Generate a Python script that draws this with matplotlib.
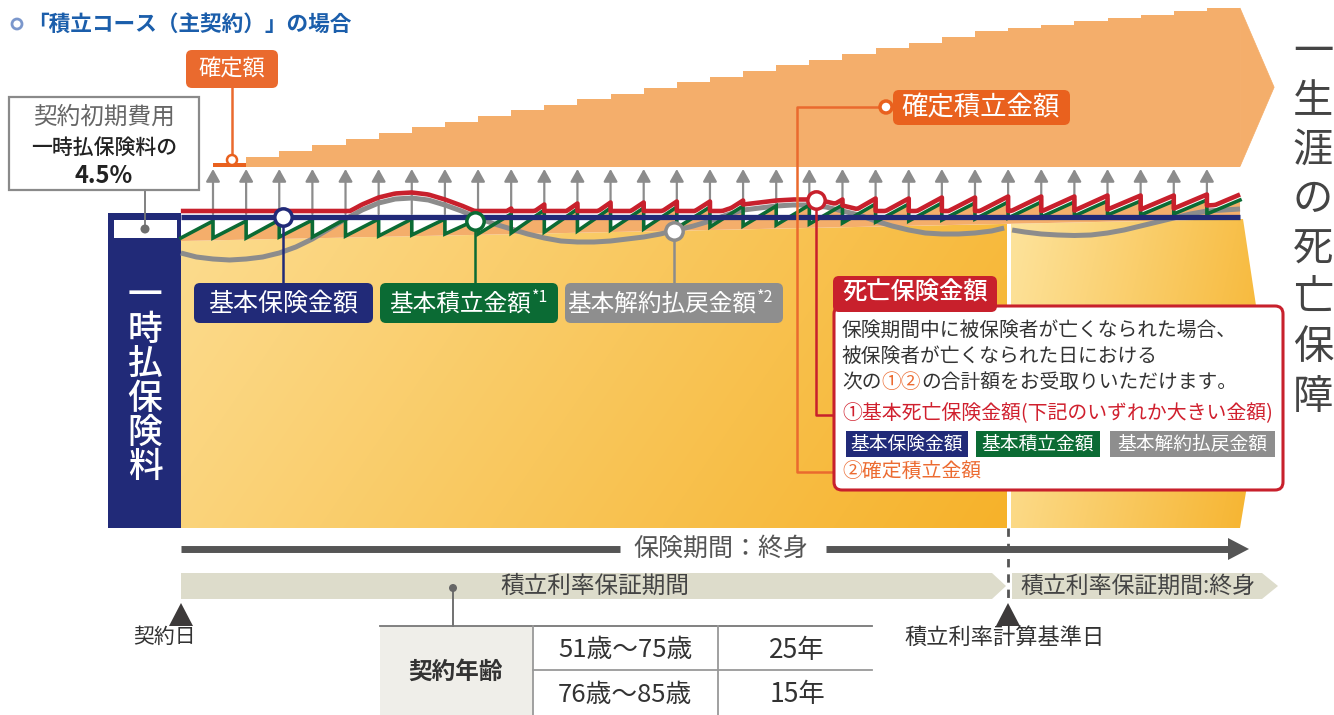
import numpy as np
import matplotlib
matplotlib.use("Agg")
import matplotlib.pyplot as plt
from matplotlib.patches import Polygon, Rectangle, FancyBboxPatch, Circle
from matplotlib.colors import to_rgb

plt.rcParams['font.family'] = ['Noto Sans CJK JP', 'DejaVu Sans']

# ---------------- data (amounts, x = policy year) ----------------
year_edges = [-0.97] + list(range(0, 32))
kakutei_first = 97          # 確定額
kakutei_base = 93.5
kakutei_steps = [103, 109, 115, 121, 127, 133, 138, 144, 150, 155, 161, 166, 172, 178, 183,
                 189, 195, 200, 206, 212, 217, 223, 229, 232, 235, 239, 242, 245, 249, 252]
kihon_hoken = 43.5          # 基本保険金額
# 基本積立金額: value at the start / end of each year
tsumitate_start = [22, 22, 22, 23, 23, 24, 24, 25, 26, 26, 27, 28, 29, 30, 31, 32,
                   33, 34, 35, 36, 37, 38, 39, 40, 41, 42, 43, 44, 45, 45, 46, 46]
tsumitate_end = [39, 39, 40, 40, 41, 41, 41, 41, 41, 46, 50, 51, 52, 52, 53, 53,
                 54, 54, 55, 55, 56, 56, 57, 57, 58, 58, 58, 59, 59, 59, 60, 60]
# 基本解約払戻金額 (two parts, split at 積立利率計算基準日)
kaiyaku_t1 = [-0.97, -0.5, 0, 0.5, 1, 1.5, 2, 2.5, 3, 3.5, 4, 4.5, 5, 5.5, 6, 6.5, 7, 7.5, 8,
              8.5, 9, 9.5, 10, 10.5, 11, 11.5, 12, 12.5, 13, 13.5, 14, 14.5, 15, 15.5, 16,
              16.5, 17, 17.5, 18, 18.5, 19, 19.5, 20, 20.5, 21, 21.5, 22, 22.5, 23, 23.5, 23.88]
kaiyaku_v1 = [7, 3, 1, 0, 1, 3, 7, 13, 21, 31, 41, 50, 57, 61, 62, 60, 55, 49, 42,
              36, 31, 26, 22, 19, 18, 18, 19, 21, 23, 26, 30, 34, 39, 45, 50,
              52, 54, 55, 55, 53, 49, 45, 39, 34, 30, 27, 26, 26, 27, 29, 32]
kaiyaku_t2 = [24.12, 24.5, 25, 25.5, 26, 26.5, 27, 27.5, 28, 28.5, 29, 29.5, 30, 30.5, 31]
kaiyaku_v2 = [30, 28, 26, 25, 24.5, 25, 27, 30, 34, 38, 42, 46, 49, 50, 51]

box_labels = ['基本保険金額', '基本積立金額', '基本解約払戻金額']
box_notes = ['', '*1', '*2']
table_ages = ['51歳～75歳', '76歳～85歳']
table_years = ['25年', '15年']

# ---------------- colours ----------------
NAVY = '#212a78'
GREEN = '#0b6b34'
GRAY = '#8c8c8c'
RED = '#c8202c'
ORANGE = '#ea6a2e'
LORANGE = '#f4ae6b'
DARK = '#333333'

W, H = 1334, 715
X0, DX, TOP = 213, 33.13, 260

fig = plt.figure(figsize=(W / 100, H / 100), dpi=100)


def px_axes():
    a = fig.add_axes([0, 0, 1, 1])
    a.axis('off')
    a.patch.set_visible(False)
    return a


ax_bg = px_axes()
ax_d = px_axes()
ax = px_axes()


def rbox(a, x0, y0, x1, y1, fc, ec='none', lw=0, r=6, z=5):
    a.add_patch(FancyBboxPatch((x0, y0), x1 - x0, y1 - y0,
                               boxstyle=f"round,pad=0,rounding_size={r}",
                               fc=fc, ec=ec, lw=lw, zorder=z))


def grad(c0, c1, wx=0.8):
    xs = np.linspace(0, 1, 300)
    ys = np.linspace(0, 1, 120)
    s = wx * xs[None, :] + (1 - wx) * ys[:, None]
    a = np.array(to_rgb(c0))
    b = np.array(to_rgb(c1))
    return a + (b - a) * s[..., None]


# ---------------- background: yellow areas, navy bar ----------------
for pts, c0, c1 in [([(181, 241), (1007, 223.9), (1007, 528), (181, 528)], '#fcdc8f', '#f6b22a'),
                    ([(1011, 223.8), (1243, 219), (1266, 372), (1240, 528), (1011, 528)], '#fde39c', '#f6b22b')]:
    xs = [p[0] for p in pts]
    ys = [p[1] for p in pts]
    im = ax_bg.imshow(grad(c0, c1), extent=(min(xs), max(xs), max(ys), min(ys)),
                      origin='upper', interpolation='bilinear', aspect='auto', zorder=1)
    poly = Polygon(pts, closed=True, fc='none', ec='none', transform=ax_bg.transData)
    ax_bg.add_patch(poly)
    im.set_clip_path(poly)

ax_bg.add_patch(Rectangle((108, 213), 73, 315, fc=NAVY, ec='none', zorder=2))
ax_bg.add_patch(Rectangle((114, 220), 63, 18, fc='white', ec='none', zorder=3))
ax_bg.add_patch(Circle((145, 229), 4.5, fc='#6e6e6e', ec='none', zorder=4))
ax_bg.plot([145, 145], [229, 190], color='#777777', lw=1.3, zorder=3)
for i, ch in enumerate('一時払保険料'):
    ax_bg.text(145, 296 + 34.2 * i, ch, color='white', fontsize=25, fontweight='medium',
               ha='center', va='center', zorder=4)

# ---------------- data marks ----------------
ax_d.stairs([kakutei_first], [0, 1], baseline=kakutei_base, fill=True, color='#e9611e', zorder=2)
ax_d.stairs(kakutei_steps, np.arange(1, 32), baseline=kakutei_base, fill=True, color=LORANGE, zorder=1)
tip_t = 32.03
ax_d.add_patch(Polygon([(31, kakutei_steps[-1]), (tip_t, (kakutei_steps[-1] + kakutei_base) / 2),
                        (31, kakutei_base)], closed=True, fc=LORANGE, ec=LORANGE, lw=0.5, zorder=1))

for t in range(0, 31):
    ax_d.annotate('', xy=(t, 91), xytext=(t, 46),
                  arrowprops=dict(arrowstyle='-|>,head_length=0.5,head_width=0.28', lw=1.6,
                                  color=GRAY, shrinkA=0, shrinkB=0, mutation_scale=15), zorder=2)

gray_t = kaiyaku_t1 + kaiyaku_t2
gray_v = kaiyaku_v1 + kaiyaku_v2
gx, gy, rx, ry = [], [], [], []
for i in range(len(tsumitate_start)):
    t0, t1 = year_edges[i], year_edges[i + 1]
    gx += [t0, t1]
    gy += [tsumitate_start[i], tsumitate_end[i]]
    ts = np.linspace(t0, t1, 16)
    g = np.linspace(tsumitate_start[i], tsumitate_end[i], 16)
    k = np.interp(ts, gray_t, gray_v)
    rx += list(ts)
    ry += list(np.maximum(np.maximum(g, k), kihon_hoken) + 5.5)

band = list(zip(gx, gy)) + [(31, 41), (year_edges[0], 19)]
ax_d.add_patch(Polygon(band, closed=True, fc=LORANGE, ec='none', zorder=2.5))
ax_d.plot(kaiyaku_t1, kaiyaku_v1, color=GRAY, lw=3.6, solid_capstyle='butt', zorder=3)
ax_d.plot(kaiyaku_t2, kaiyaku_v2, color=GRAY, lw=3.6, solid_capstyle='butt', zorder=3)
ax_d.plot(gx, gy, color=GREEN, lw=2.6, solid_joinstyle='miter', zorder=4)
ax_d.plot([year_edges[0], 31], [kihon_hoken, kihon_hoken], color=NAVY, lw=3.8,
          solid_capstyle='butt', zorder=5)
ax_d.plot(rx, ry, color=RED, lw=3.3, solid_capstyle='butt', zorder=6)

# markers + leaders
m_blue = (2.11, kihon_hoken)
m_green = (7.9, tsumitate_start[8] + (tsumitate_end[8] - tsumitate_start[8]) * 0.9)
m_gray = (13.9, float(np.interp(13.9, gray_t, gray_v)))
m_red = (18.2, float(np.interp(18.2, rx, ry)))
for (t, v), c in [(m_blue, NAVY), (m_green, GREEN), (m_gray, GRAY)]:
    ax_d.plot([t, t], [v, TOP - 283], color=c, lw=1.8, zorder=6.5)
ax_d.plot([m_red[0], m_red[0], 18.99], [m_red[1], TOP - 415, TOP - 415], color=RED, lw=1.8, zorder=6.5)
for (t, v), c in [(m_blue, NAVY), (m_green, GREEN), (m_gray, GRAY), (m_red, RED)]:
    ax_d.plot(t, v, 'o', ms=12.5, mfc='white', mec=c, mew=2.5, zorder=7)

ax_d.set_xlim((0 - X0) / DX, (W - X0) / DX)
ax_d.set_ylim(TOP - H, TOP)

# ---------------- labels / annotations ----------------
ax.add_patch(Circle((17, 24), 5, fc='white', ec='#7b97cc', lw=2))
ax.text(27, 24, '「積立コース（主契約）」の場合', color='#1b5eab', fontsize=15.6,
        fontweight='bold', ha='left', va='center')

# 確定額
rbox(ax, 186, 50, 278, 88, ORANGE, r=6)
ax.text(232, 69, '確定額', color='white', fontsize=16, ha='center', va='center', zorder=6)
ax.plot([232, 232], [88, 156], color=ORANGE, lw=1.8, zorder=4)
ax.add_patch(Circle((232, 160), 5, fc='white', ec='#e9611e', lw=1.8, zorder=6))

# 契約初期費用
ax.add_patch(Rectangle((9, 97), 190, 93, fc='white', ec='#8a8a8a', lw=1.6, zorder=4))
ax.text(104, 117, '契約初期費用', color='#666666', fontsize=17, ha='center', va='center', zorder=5)
ax.text(104, 148, '一時払保険料の', color='#222222', fontsize=15, fontweight='medium',
        ha='center', va='center', zorder=5)
ax.text(104, 176, '4.5%', color='#222222', fontsize=17, fontweight='bold',
        ha='center', va='center', zorder=5)

# three labels under the curves
for (x0, x1, tx), c, lab, note in zip([(194, 373, 283), (380, 558, 531), (565, 783, 756)],
                                    [NAVY, GREEN, '#8e8e8e'], box_labels, box_notes):
    rbox(ax, x0, 283, x1, 323, c, r=6)
    if note:
        ax.text(tx, 304, lab, color='white', fontsize=17, ha='right', va='center', zorder=6)
        ax.text(tx + 1, 297, note, color='white', fontsize=11.5, ha='left', va='center', zorder=6)
    else:
        ax.text(tx, 304, lab, color='white', fontsize=18, ha='center', va='center', zorder=6)

# 確定積立金額 label + leader
ax.plot([886, 797, 797, 842], [107, 107, 472, 472], color=ORANGE, lw=1.8, zorder=4)
rbox(ax, 893, 90, 1070, 125, '#e9611e', r=6)
ax.text(981, 108, '確定積立金額', color='white', fontsize=19, ha='center', va='center', zorder=6)
ax.add_patch(Circle((886, 107), 6, fc='white', ec='#e9611e', lw=2.5, zorder=7))

# death benefit box
rbox(ax, 834, 306, 1283, 490, 'white', ec=RED, lw=2.2, r=8, z=5)
rbox(ax, 833, 276, 997, 312, RED, r=6, z=6)
ax.text(915, 293, '死亡保険金額', color='white', fontsize=17.5, fontweight='medium',
        ha='center', va='center', zorder=7)
ax.text(842, 330, '保険期間中に被保険者が亡くなられた場合、', color=DARK, fontsize=14.2,
        ha='left', va='center', zorder=7)
ax.text(842, 356, '被保険者が亡くなられた日における', color=DARK, fontsize=14.2,
        ha='left', va='center', zorder=7)
t1 = ax.text(842, 383, '次の', color=DARK, fontsize=14.2, ha='left', va='center', zorder=7)
t2 = ax.annotate('①②', xy=(1, 0.5), xycoords=t1, color='#ec6b31', fontsize=14.2,
                 ha='left', va='center', zorder=7)
ax.annotate('の合計額をお受取りいただけます。', xy=(1, 0.5), xycoords=t2, color=DARK,
            fontsize=14.2, ha='left', va='center', zorder=7)
ax.text(842, 414, '①基本死亡保険金額(下記のいずれか大きい金額)', color='#d0202e', fontsize=14.3,
        ha='left', va='center', zorder=7)
for (x0, x1), c, lab in zip([(846, 968), (976, 1100), (1110, 1275)], [NAVY, GREEN, '#8e8e8e'], box_labels):
    ax.add_patch(Rectangle((x0, 431), x1 - x0, 26, fc=c, ec='none', zorder=6))
    ax.text((x0 + x1) / 2, 444, lab, color='white', fontsize=13.5, ha='center', va='center', zorder=7)
ax.text(842, 472, '②確定積立金額', color='#ec6b31', fontsize=14.3, ha='left', va='center', zorder=7)

# right vertical text
for i, ch in enumerate('一生涯の死亡保障'):
    ax.text(1313, 52 + 49.3 * i, ch, color='#444444', fontsize=29, ha='center', va='center')

# ---------------- bottom timeline ----------------
ax.plot([181, 620], [549, 549], color='#555555', lw=5, solid_capstyle='butt')
ax.plot([826, 1232], [549, 549], color='#555555', lw=5, solid_capstyle='butt')
ax.add_patch(Polygon([(1228, 538), (1249, 549), (1228, 560)], closed=True, fc='#555555', ec='none'))
ax.text(721, 549, '保険期間：終身', color='#555555', fontsize=18, ha='center', va='center')

ax.add_patch(Polygon([(181, 573), (992, 573), (1006, 586), (992, 599), (181, 599)],
                     closed=True, fc='#dddccb', ec='none'))
ax.add_patch(Polygon([(1012, 573), (1262, 573), (1278, 586), (1262, 599), (1012, 599)],
                     closed=True, fc='#dddccb', ec='none'))
ax.text(595, 586, '積立利率保証期間', color='#444444', fontsize=17, ha='center', va='center')
ax.text(1138, 586, '積立利率保証期間:終身', color='#444444', fontsize=16.5, ha='center', va='center')
ax.plot([1008, 1008], [528, 604], color='#555555', lw=2, ls=(0, (3, 2.5)))

for x in [181, 1008]:
    ax.add_patch(Polygon([(x - 12, 626), (x, 603), (x + 12, 626)], closed=True, fc='#3d3a3a', ec='none'))
ax.text(165, 637, '契約日', color=DARK, fontsize=15, ha='center', va='center')
ax.text(1005, 637, '積立利率計算基準日', color=DARK, fontsize=16, ha='center', va='center')

# table
ax.add_patch(Circle((453, 588), 4, fc='#666666', ec='none'))
ax.plot([453, 453], [588, 626], color='#666666', lw=1.3)
ax.add_patch(Rectangle((380, 626), 153, 89, fc='#efeee9', ec='none'))
ax.plot([380, 872], [626, 626], color='#777777', lw=1.3)
ax.plot([533, 872], [670, 670], color='#999999', lw=1.3)
ax.plot([533, 533], [626, 715], color='#999999', lw=1.3)
ax.plot([718, 718], [626, 715], color='#999999', lw=1.3)
ax.text(456, 672, '契約年齢', color=DARK, fontsize=17, fontweight='bold', ha='center', va='center')
for i, (age, yrs) in enumerate(zip(table_ages, table_years)):
    ax.text(625, 650 + 45 * i, age, color=DARK, fontsize=18.5, ha='center', va='center')
    ax.text(797, 650 + 45 * i, yrs, color=DARK, fontsize=19, ha='center', va='center')

for a in (ax_bg, ax):
    a.set_xlim(0, W)
    a.set_ylim(H, 0)

fig.savefig('out.png', dpi=100)
